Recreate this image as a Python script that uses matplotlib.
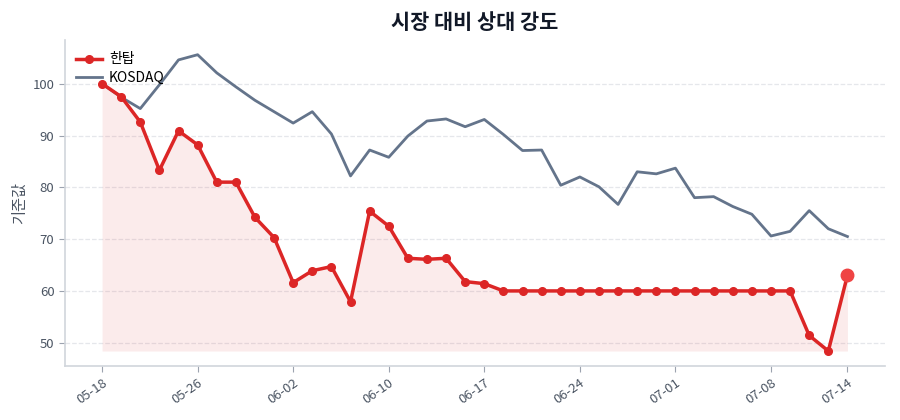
import numpy as np
import matplotlib
matplotlib.use("Agg")
import matplotlib.pyplot as plt

plt.rcParams['font.family'] = ['Noto Sans CJK KR', 'DejaVu Sans']

# 거래일 (인덱스 기반 x축)
dates = ['05-18', '05-19', '05-20', '05-21', '05-22', '05-26', '05-27', '05-28',
         '05-29', '06-01', '06-02', '06-04', '06-05', '06-08', '06-09', '06-10',
         '06-11', '06-12', '06-15', '06-16', '06-17', '06-18', '06-19', '06-22',
         '06-23', '06-24', '06-25', '06-26', '06-29', '06-30', '07-01', '07-02',
         '07-03', '07-06', '07-07', '07-08', '07-09', '07-10', '07-13', '07-14']

hantop = [100.0, 97.5, 92.6, 83.3, 90.9, 88.2, 81.0, 81.0, 74.2, 70.3,
          61.6, 63.9, 64.7, 57.9, 75.4, 72.5, 66.3, 66.1, 66.3, 61.8,
          61.4, 60.0, 60.0, 60.0, 60.0, 60.0, 60.0, 60.0, 60.0, 60.0,
          60.0, 60.0, 60.0, 60.0, 60.0, 60.0, 60.0, 51.4, 48.4, 63.0]

kosdaq = [100.0, 97.4, 95.2, 99.8, 104.6, 105.6, 102.1, 99.4, 96.8, 94.6,
          92.4, 94.6, 90.3, 82.2, 87.2, 85.8, 89.9, 92.8, 93.2, 91.7,
          93.1, 90.2, 87.1, 87.2, 80.4, 82.0, 80.1, 76.7, 83.0, 82.6,
          83.7, 78.0, 78.2, 76.3, 74.8, 70.6, 71.5, 75.5, 72.0, 70.5]

tick_idx = [0, 5, 10, 15, 20, 25, 30, 35, 39]

x = np.arange(len(dates))

fig = plt.figure(figsize=(9, 4.2), dpi=100)
ax = fig.add_axes([0.072, 0.129, 0.911, 0.776])

ax.fill_between(x, hantop, min(hantop), color='#dc2626', alpha=0.09, linewidth=0)
ax.plot(x, kosdaq, color='#64748b', linewidth=2, label='KOSDAQ', zorder=2)
ax.plot(x, hantop, color='#dc2626', linewidth=2.5, marker='o', markersize=5.5,
        label='한탑', zorder=3)
ax.plot(x[-1], hantop[-1], 'o', color='#ef4444', markersize=9, zorder=4)

handles, labels = ax.get_legend_handles_labels()
ax.legend(handles[::-1], labels[::-1], loc='upper left', frameon=False, fontsize=10,
          bbox_to_anchor=(-0.002, 1.0), handlelength=1.9, handletextpad=0.5,
          labelspacing=0.35)

ax.set_xticks(tick_idx)
ax.set_xticklabels([dates[i] for i in tick_idx], rotation=35, ha='right',
                   rotation_mode='anchor')
ax.set_yticks([50, 60, 70, 80, 90, 100])
ax.tick_params(colors='#4b5563', labelsize=9.5)
ax.tick_params(axis='both', color='#9ca3af', length=4)

ax.set_ylabel('기준값', color='#4b5563', fontsize=11, labelpad=3)
ax.set_title('시장 대비 상대 강도', fontsize=15, fontweight='bold', color='#111827', pad=8)

ax.grid(axis='y', linestyle='--', color='#e5e7eb', linewidth=0.9)
ax.set_axisbelow(True)
for s in ['top', 'right']:
    ax.spines[s].set_visible(False)
for s in ['left', 'bottom']:
    ax.spines[s].set_color('#d1d5db')
    ax.spines[s].set_linewidth(1.2)

fig.savefig('out.png', dpi=100)
